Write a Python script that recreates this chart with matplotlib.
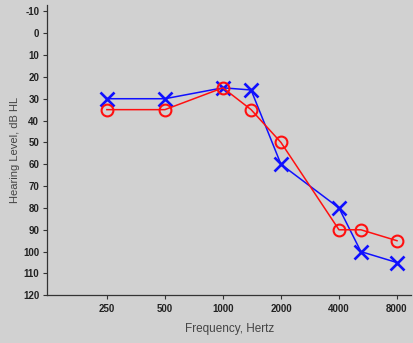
import matplotlib
matplotlib.use("Agg")
import matplotlib.pyplot as plt

# Data
freqs = [250, 500, 1000, 1400, 2000, 4000, 5200, 8000]
right_ear = [35, 35, 25, 35, 50, 90, 90, 95]      # red circles
left_ear = [30, 30, 25, 26, 60, 80, 100, 105]     # blue crosses
xtick_vals = [250, 500, 1000, 2000, 4000, 8000]
xtick_labels = ["250", "500", "1000", "2000", "4000", "8000"]
ytick_vals = list(range(-10, 121, 10))

bg = "#d1d1d1"
plt.rcParams["font.family"] = ["Liberation Sans", "DejaVu Sans"]

fig = plt.figure(figsize=(4.13, 3.43), dpi=100, facecolor=bg)
ax = fig.add_axes([0.115, 0.139, 0.88, 0.847], facecolor=bg)

ax.plot(freqs, left_ear, color="#1010ff", lw=1.1, marker="x",
        markersize=10.5, mew=1.9, zorder=3)
ax.plot(freqs, right_ear, color="#ff1010", lw=1.1, marker="o",
        markersize=8.5, mew=1.5, markerfacecolor="none", zorder=4)

ax.set_xscale("log", base=2)
ax.set_xlim(123, 9450)
ax.set_ylim(120, -13)
ax.set_xticks(xtick_vals)
ax.set_xticklabels(xtick_labels)
ax.minorticks_off()
ax.set_yticks(ytick_vals)
ax.set_yticklabels([str(v) for v in ytick_vals])

for s in ["top", "right"]:
    ax.spines[s].set_visible(False)
for s in ["left", "bottom"]:
    ax.spines[s].set_color("#333333")
    ax.spines[s].set_linewidth(0.9)

ax.tick_params(axis="both", direction="out", length=3, width=0.8,
               color="#333333", labelsize=7, labelcolor="#222222", pad=3)
for lab in ax.get_xticklabels() + ax.get_yticklabels():
    lab.set_fontweight("bold")

ax.set_ylabel("Hearing Level, dB HL", fontsize=8, color="#444444", labelpad=2)
ax.set_xlabel("Frequency, Hertz", fontsize=8.5, color="#444444", labelpad=7)

fig.savefig("out.png", dpi=100, facecolor=bg)
